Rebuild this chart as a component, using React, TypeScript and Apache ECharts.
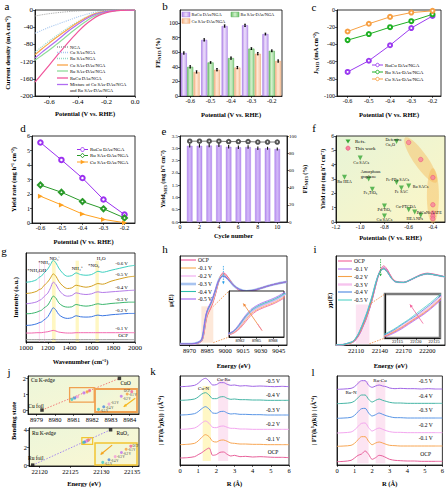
import React, { useEffect, useRef } from "react";
import * as echarts from "echarts";

const SERIF = '"Liberation Serif", "Times New Roman", Times, serif';

/* ---------- (a) LSV ---------- */
const lsvPotential = [-0.7, -0.65, -0.6, -0.55, -0.5, -0.45, -0.4, -0.35, -0.3, -0.25, -0.2, -0.15, -0.1, -0.05, 0];
const lsvNGA = [-14, -11, -8.5, -6.5, -4.8, -3.4, -2.3, -1.5, -0.9, -0.5, -0.3, -0.15, -0.05, 0, 0];
const lsvCuSAs = [-54, -47, -40, -34, -28, -22, -16, -11, -6.5, -3.5, -1.8, -0.8, -0.3, -0.1, 0];
const lsvRuSAs = [-98, -85, -72, -60, -48, -37, -27, -18, -10, -5.5, -2.8, -1.3, -0.5, -0.2, 0];
const lsvCuSD = [-104, -90, -77, -64, -52, -40, -29, -19, -11, -6, -3, -1.4, -0.6, -0.2, 0];
const lsvRuSD = [-117, -105, -93, -80, -67, -53, -40, -28, -17, -9, -4.5, -2, -0.8, -0.3, 0];
const lsvRuCu = [-168, -148, -128, -108, -88, -69, -51, -35, -22, -12, -6, -2.8, -1, -0.3, 0];
const lsvMix = [-112, -98, -85, -72, -58, -45, -33, -22, -13, -7, -3.5, -1.6, -0.6, -0.2, 0];
const lsvTicksX = [-0.6, -0.4, -0.2, 0];
const lsvTicksY = [-200, -160, -120, -80, -40, 0];

/* ---------- (b) FE bars ---------- */
const potentialCats = ["-0.6", "-0.5", "-0.4", "-0.3", "-0.2"];
const feRuCu = [59, 77, 96, 97, 85];
const feRu = [40, 46, 52, 65, 62];
const feCu = [33, 36, 39, 58, 48];
const feRuCuErr = [1.5, 1.5, 1.5, 1.5, 1.2];
const feRuErr = [1.5, 1.0, 1.5, 1.2, 1.2];
const feCuErr = [1.5, 1.5, 1.5, 1.5, 1.5];
const feTicks = [0, 20, 40, 60, 80, 100];

/* ---------- (c) partial current density ---------- */
const potentials = [-0.6, -0.5, -0.4, -0.3, -0.2];
const jRuCu = [-72, -59, -41, -21, -7];
const jRu = [-35, -28, -20, -13, -5];
const jCu = [-25, -16, -8, -3, -1];
const jTicks = [-100, -80, -60, -40, -20, 0];

/* ---------- (d) yield rate ---------- */
const yRuCu = [5.55, 4.35, 3.1, 1.62, 0.58];
const yRu = [2.62, 2.12, 1.48, 0.98, 0.35];
const yCu = [1.85, 1.25, 0.62, 0.25, 0.02];
const yieldTicks = [0, 1, 2, 3, 4, 5, 6];

/* ---------- (e) cycling ---------- */
const cycles = [1, 2, 3, 4, 5, 6, 7, 8, 9, 10];
const cycleYield = [3.1, 3.1, 3.11, 3.12, 3.06, 3.04, 3.05, 3.0, 3.0, 2.97];
const cycleYieldErr = [0.07, 0.07, 0.07, 0.07, 0.07, 0.07, 0.07, 0.07, 0.06, 0.06];
const cycleFE = [94, 94, 94, 94, 93.5, 93.5, 93.5, 93, 93, 93];
const cycleTicks = [0, 2, 4, 6, 8, 10];
const cycleYieldTicks = [0, 0.5, 1, 1.5, 2, 2.5, 3, 3.5];
const cycleFETicks = [0, 20, 40, 60, 80, 100];

/* ---------- (f) comparison ---------- */
const refNames = ["Defective\nCu₂O", "Co SACs", "Ru HEA", "Amorphous\ngraphene", "Fe₂TiO₅", "Fe-PPy SACs", "Fe SAC", "Ru SACs", "Pd/TiO₂", "Cu-PTCDA", "PdCuNi AATE", "HEA NPs", "Cu SACs"];
const refPotential = [-0.7, -1.0, -1.13, -0.93, -0.9, -0.7, -0.66, -0.6, -0.8, -0.6, -0.55, -0.5, -0.8];
const refYield = [5.62, 4.47, 3.12, 3.0, 2.28, 2.75, 2.38, 2.52, 1.12, 0.85, 0.7, 0.47, 0.42];
const twPotential = [-0.6, -0.5, -0.4, -0.4, -0.4, -0.4, -0.4];
const twYield = [5.55, 4.36, 3.1, 1.2, 0.62, 0.4, 0.22];
const fTicksX = [-1.2, -1.0, -0.8, -0.6, -0.4];

/* ---------- (g) in-situ IR ---------- */
const gWavenumber = [1000, 1050, 1100, 1120, 1140, 1160, 1180, 1200, 1225, 1250, 1275, 1300, 1340, 1380, 1420, 1460, 1500, 1550, 1600, 1640, 1660, 1700, 1780, 1860, 1940, 2000];
const ir06 = [180, 182, 188, 195, 198, 206, 213, 220, 233, 246, 238, 223, 206, 198, 200, 208, 203, 201, 203, 210, 213, 210, 216, 222, 228, 231];
const ir05 = [146, 148, 153, 158, 160, 168, 175, 181, 193, 205, 198, 183, 168, 161, 163, 171, 168, 165, 168, 174, 176, 174, 183, 190, 196, 198];
const ir04 = [115, 117, 121, 125, 128, 135, 141, 147, 163, 180, 173, 158, 143, 138, 140, 148, 145, 143, 145, 150, 151, 149, 151, 153, 155, 156];
const ir03 = [85, 86, 90, 93, 95, 101, 106, 111, 125, 138, 132, 118, 108, 105, 106, 113, 110, 108, 110, 114, 115, 113, 116, 118, 120, 120];
const ir02 = [50, 51, 55, 58, 60, 65, 70, 76, 90, 103, 96, 83, 74, 71, 73, 79, 76, 75, 76, 80, 81, 79, 82, 84, 86, 86];
const ir01 = [27, 27, 28, 28, 28, 29, 30, 31, 33, 35, 33, 30, 28, 27, 27, 28, 28, 28, 28, 28, 28, 28, 28, 28, 28, 28];
const irOCP = [7, 7, 7, 7, 7, 7, 7, 7, 7, 8, 7, 7, 7, 7, 7, 7, 7, 7, 7, 7, 7, 7, 7, 7, 7, 7];
const irLabels = ["-0.6 V", "-0.5 V", "-0.4 V", "-0.3 V", "-0.2 V", "-0.1 V", "OCP"];
const gTicks = [1000, 1200, 1400, 1600, 1800, 2000];

/* ---------- (h) Cu K-edge XANES ---------- */
const hEnergy = [8962, 8972, 8977, 8980, 8981, 8982, 8983, 8984, 8985, 8986, 8987, 8988, 8989, 8990, 8992, 8994, 8996, 8998, 9000, 9003, 9007, 9012, 9018, 9025, 9033, 9042, 9052];
const cuOCP = [0, 0, 0.01, 0.04, 0.08, 0.16, 0.28, 0.4, 0.48, 0.53, 0.57, 0.61, 0.66, 0.72, 0.86, 1.02, 1.15, 1.21, 1.2, 1.12, 1.0, 0.91, 0.88, 0.91, 0.97, 1.02, 1.06];
const cu01 = [0, 0, 0.01, 0.05, 0.09, 0.18, 0.31, 0.43, 0.5, 0.55, 0.59, 0.63, 0.68, 0.74, 0.88, 1.03, 1.15, 1.19, 1.18, 1.11, 1.0, 0.92, 0.89, 0.92, 0.97, 1.02, 1.06];
const cu02 = [0, 0, 0.01, 0.05, 0.1, 0.2, 0.34, 0.45, 0.52, 0.57, 0.61, 0.65, 0.7, 0.76, 0.89, 1.04, 1.14, 1.18, 1.17, 1.1, 1.0, 0.92, 0.89, 0.92, 0.97, 1.02, 1.06];
const cu03 = [0, 0, 0.02, 0.06, 0.11, 0.22, 0.36, 0.47, 0.54, 0.59, 0.63, 0.67, 0.72, 0.78, 0.91, 1.05, 1.14, 1.17, 1.16, 1.1, 1.0, 0.93, 0.9, 0.92, 0.97, 1.02, 1.06];
const cu04 = [0, 0, 0.02, 0.06, 0.12, 0.24, 0.38, 0.49, 0.56, 0.61, 0.65, 0.69, 0.74, 0.8, 0.92, 1.05, 1.13, 1.16, 1.15, 1.09, 1.0, 0.93, 0.9, 0.92, 0.97, 1.02, 1.06];
const cu05 = [0, 0, 0.02, 0.07, 0.13, 0.26, 0.4, 0.51, 0.58, 0.63, 0.67, 0.71, 0.76, 0.82, 0.94, 1.06, 1.12, 1.15, 1.14, 1.09, 1.0, 0.93, 0.9, 0.92, 0.97, 1.02, 1.06];
const hTicks = [8970, 8985, 9000, 9015, 9030, 9045];
const hInsetTicks = [8982, 8985, 8988];
const potLabels = ["OCP", "-0.1 V", "-0.2 V", "-0.3 V", "-0.4 V", "-0.5 V"];

/* ---------- (i) Ru K-edge XANES ---------- */
const iEnergy = [22085, 22095, 22100, 22105, 22108, 22110, 22112, 22114, 22116, 22118, 22120, 22122, 22124, 22126, 22128, 22131, 22135, 22140, 22145, 22150, 22155, 22160, 22170, 22180, 22190, 22200, 22210, 22222];
const ruOCP = [0, 0.01, 0.02, 0.04, 0.06, 0.09, 0.13, 0.17, 0.22, 0.28, 0.34, 0.4, 0.47, 0.55, 0.63, 0.77, 0.98, 1.2, 1.29, 1.22, 1.1, 1.04, 1.02, 1.07, 1.14, 1.17, 1.15, 1.11];
const ru01 = [0, 0.01, 0.02, 0.04, 0.06, 0.09, 0.12, 0.16, 0.21, 0.27, 0.33, 0.39, 0.46, 0.54, 0.62, 0.76, 0.97, 1.19, 1.26, 1.2, 1.09, 1.03, 1.02, 1.07, 1.13, 1.16, 1.14, 1.11];
const ru02 = [0, 0.01, 0.02, 0.04, 0.07, 0.1, 0.13, 0.18, 0.23, 0.29, 0.35, 0.41, 0.48, 0.56, 0.64, 0.78, 0.99, 1.19, 1.25, 1.19, 1.09, 1.03, 1.02, 1.07, 1.13, 1.16, 1.14, 1.11];
const ru03 = [0, 0.01, 0.02, 0.05, 0.07, 0.1, 0.14, 0.19, 0.24, 0.3, 0.36, 0.43, 0.5, 0.58, 0.66, 0.8, 1.0, 1.19, 1.25, 1.19, 1.09, 1.03, 1.02, 1.07, 1.13, 1.16, 1.14, 1.11];
const ru04 = [0, 0.01, 0.03, 0.05, 0.08, 0.11, 0.15, 0.2, 0.26, 0.32, 0.38, 0.45, 0.52, 0.6, 0.68, 0.81, 1.01, 1.19, 1.24, 1.18, 1.08, 1.03, 1.02, 1.07, 1.13, 1.16, 1.14, 1.11];
const ru05 = [0, 0.01, 0.03, 0.05, 0.08, 0.12, 0.16, 0.21, 0.27, 0.33, 0.4, 0.47, 0.54, 0.62, 0.7, 0.83, 1.02, 1.19, 1.24, 1.18, 1.08, 1.03, 1.02, 1.07, 1.13, 1.16, 1.14, 1.11];
const iTicks = [22110, 22140, 22170, 22200];
const iInsetTicks = [22115, 22120, 22125];

/* ---------- (j) bonding state ---------- */
const cuRefE = [8979.3, 8983.45];
const cuRefState = [0, 2];
const cuE = [8981.85, 8981.72, 8981.55, 8981.2, 8981.05, 8980.9];
const cuState = [1.22, 1.15, 1.08, 0.84, 0.76, 0.68];
const ruRefE = [22118.9, 22131.5];
const ruRefState = [0, 4];
const ruE = [22127.95, 22127.8, 22127.65, 22127.45, 22127.25, 22127.05];
const ruState = [2.86, 2.8, 2.74, 2.66, 2.6, 2.55];
const jCuTicksX = [8979, 8980, 8981, 8982, 8983, 8984];
const jCuTicksY = [0, 1, 2];
const jRuTicksX = [22120, 22125, 22130, 22135];
const jRuTicksY = [0, 2, 4];

/* ---------- (k) Cu EXAFS, (l) Ru EXAFS ---------- */
const rGrid = [0, 0.4, 0.8, 1.0, 1.2, 1.4, 1.6, 1.8, 2.0, 2.2, 2.4, 2.6, 2.8, 3.0, 3.3, 3.6, 4.0, 4.4, 4.8, 5.2, 5.6, 6.0];
const kOCP = [21, 22, 25, 31, 37, 45, 51, 29, 31, 38, 39, 32, 27, 29, 25, 26, 24, 25, 24, 23, 23, 22];
const k01 = [61, 62, 65, 72, 83, 91, 85, 71, 69, 74, 75, 71, 66, 65, 63, 63, 62, 62, 61, 61, 61, 61];
const k02 = [107, 108, 111, 117, 126, 132, 125, 113, 112, 116, 117, 113, 110, 110, 108, 108, 107, 107, 107, 107, 107, 107];
const k03 = [150, 151, 154, 160, 169, 175, 168, 156, 155, 160, 161, 156, 153, 154, 152, 152, 151, 151, 150, 150, 150, 150];
const k04 = [194, 195, 198, 204, 213, 217, 210, 199, 199, 204, 205, 200, 197, 198, 196, 196, 195, 195, 194, 194, 194, 194];
const k05 = [235, 236, 239, 245, 255, 260, 252, 240, 241, 247, 247, 242, 239, 240, 237, 238, 236, 237, 236, 235, 236, 235];
const lOCP = [10, 11, 14, 21, 29, 33, 42, 32, 17, 22, 29, 27, 22, 17, 14, 13, 12, 12, 11, 11, 11, 11];
const l01 = [56, 57, 59, 65, 76, 85, 85, 71, 61, 66, 69, 66, 62, 59, 58, 57, 57, 57, 57, 57, 57, 57];
const l02 = [96, 97, 99, 105, 116, 125, 126, 112, 102, 107, 111, 107, 103, 100, 98, 98, 97, 97, 97, 97, 97, 97];
const l03 = [140, 141, 143, 149, 160, 169, 170, 156, 147, 151, 156, 152, 148, 145, 142, 142, 141, 141, 141, 141, 141, 141];
const l04 = [184, 185, 187, 192, 202, 210, 210, 197, 189, 194, 198, 194, 191, 188, 186, 186, 185, 185, 185, 185, 185, 185];
const l05 = [227, 228, 230, 235, 245, 253, 253, 239, 233, 237, 240, 237, 235, 231, 229, 230, 229, 229, 228, 229, 228, 228];
const rTicks = [0, 1, 2, 3, 4, 5, 6];

/* ---------- styling ---------- */
const potColorsH = ["#f0559b", "#f8a94e", "#f0a8ee", "#a8c4f0", "#2ebfae", "#a064f0"];
const potColorsI = ["#f0609a", "#b070f0", "#f5a24a", "#f6c4ee", "#4a86e0", "#52d2c6"];
const potColorsK = ["#e8609a", "#f8a653", "#f3a6ef", "#5a96e6", "#45b5a5", "#a166e6"];
const potColorsJ = ["#f0609a", "#f5a040", "#c070f0", "#f39ad8", "#4a86e0", "#40c8c0"];
const irColors = ["#3ed0c0", "#d4a020", "#b47be8", "#3cb66e", "#3a76e2", "#f36ab0", "#9a9a9a"];

const GRIDS: any[] = [
  { left: 35, top: 10, width: 100, height: 86 },
  { left: 180, top: 10, width: 102, height: 86 },
  { left: 337, top: 10, width: 104, height: 86 },
  { left: 32, top: 136, width: 103, height: 87 },
  { left: 180, top: 136, width: 107, height: 86 },
  { left: 336, top: 136, width: 109, height: 86, bg: "f" },
  { left: 26, top: 253, width: 109, height: 89 },
  { left: 180, top: 256, width: 107, height: 89 },
  { left: 229, top: 291, width: 55, height: 46, inset: true, bc: "#222", bw: 1 },
  { left: 336, top: 256, width: 109, height: 89 },
  { left: 385, top: 294, width: 55, height: 44, inset: true, bc: "#7a7a7a", bw: 2.5 },
  { left: 28, top: 376, width: 111, height: 38, bg: "j" },
  { left: 95, top: 389, width: 42, height: 23, inset: true, bc: "#f0a050", bw: 1.8, bg: "j" },
  { left: 29, top: 428, width: 110, height: 38, bg: "j" },
  { left: 95, top: 443, width: 42, height: 22, inset: true, bc: "#f2c531", bw: 1.5, bg: "j" },
  { left: 180, top: 376, width: 109, height: 89 },
  { left: 337, top: 376, width: 108, height: 89 },
];

function clean(o: any): any {
  if (Array.isArray(o)) return o.map(clean);
  if (o && typeof o === "object" && !(o instanceof echarts.graphic.LinearGradient)) {
    const r: any = {};
    Object.keys(o).forEach((k) => {
      if (o[k] !== undefined) r[k] = clean(o[k]);
    });
    return r;
  }
  return o;
}

const zip = (xs: number[], ys: number[]) => xs.map((x, i) => [x, ys[i]]);
const f1 = (v: number) => v.toFixed(1);
const f0 = (v: number) => String(Math.round(v));

const RICH = {
  s: { fontFamily: SERIF, fontSize: 4.6, fontWeight: "bold", verticalAlign: "bottom", lineHeight: 9, color: "#000" },
};

function axis(gi: number, o: any) {
  return clean({
    type: o.type || "value",
    gridIndex: gi,
    show: o.show === false ? false : true,
    min: o.min,
    max: o.max,
    data: o.data,
    position: o.position,
    boundaryGap: o.type === "category" ? true : undefined,
    z: o.z,
    name: o.name,
    nameLocation: "middle",
    nameGap: o.nameGap !== undefined ? o.nameGap : 10,
    nameRotate: o.nameRotate,
    nameTextStyle: { fontFamily: SERIF, fontSize: o.nfs || 6.5, fontWeight: "bold", color: "#000", lineHeight: 9, rich: RICH },
    axisLine: { show: true, onZero: false, lineStyle: { color: "#000", width: 0.8 } },
    axisTick: {
      show: o.ticks === false ? false : true,
      length: 2,
      alignWithLabel: true,
      lineStyle: { color: "#000", width: 0.6 },
      customValues: o.at,
    },
    axisLabel: {
      show: o.labels === false ? false : true,
      fontFamily: SERIF,
      fontSize: o.fs || 6,
      color: "#000",
      margin: o.margin !== undefined ? o.margin : 2,
      customValues: o.at,
      formatter: o.fmt,
      hideOverlap: false,
    },
    splitLine: { show: false },
  });
}

function buildOption() {
  const bgF = new echarts.graphic.LinearGradient(0, 0, 1, 1, [
    { offset: 0, color: "#e7f4d7" },
    { offset: 1, color: "#fdf6c6" },
  ]);
  const bgJ = () =>
    new echarts.graphic.LinearGradient(0, 0, 1, 1, [
      { offset: 0, color: "#ecf6da" },
      { offset: 1, color: "#fcf7d2" },
    ]);
  const grid = GRIDS.map((g) =>
    clean({
      left: g.left,
      top: g.top,
      width: g.width,
      height: g.height,
      show: true,
      containLabel: false,
      borderColor: g.bc || "#000",
      borderWidth: g.bw || 0.8,
      backgroundColor: g.bg === "f" ? bgF : g.bg === "j" ? bgJ() : g.inset ? "#fff" : "transparent",
      z: g.inset ? 3 : 0,
    })
  );

  const xAxis = [
    axis(0, { min: -0.7, max: 0, at: lsvTicksX, fmt: f1, fs: 7, name: "Potential (V vs. RHE)", nameGap: 13 }),
    axis(1, { type: "category", data: potentialCats, fs: 6, name: "Potential (V vs. RHE)", nameGap: 14 }),
    axis(2, { min: -0.65, max: -0.16, at: potentials, fmt: f1, fs: 6, name: "Potential (V vs. RHE)", nameGap: 14 }),
    axis(3, { min: -0.64, max: -0.15, at: potentials, fmt: f1, fs: 6, name: "Potential (V vs. RHE)", nameGap: 14 }),
    axis(4, { min: 0, max: 11, at: cycleTicks, fmt: f0, fs: 6, name: "Cycle number", nameGap: 9 }),
    axis(5, { min: -1.2, max: -0.3, at: fTicksX, fmt: f1, fs: 5.5, name: "Potentials (V vs. RHE)", nameGap: 11 }),
    axis(6, { min: 1000, max: 2000, at: gTicks, fmt: f0, fs: 7, name: "Wavenumber (cm⁻¹)", nameGap: 15 }),
    axis(7, { min: 8962, max: 9052, at: hTicks, fmt: f0, fs: 6.5, name: "Energy (eV)", nameGap: 16 }),
    axis(8, { min: 8980, max: 8990, at: hInsetTicks, fmt: f0, fs: 4.5, margin: 1, z: 4 }),
    axis(9, { min: 22085, max: 22222, at: iTicks, fmt: f0, fs: 6.5, name: "Energy (eV)", nameGap: 16 }),
    axis(10, { min: 22111.6, max: 22126.6, at: iInsetTicks, fmt: f0, fs: 4.5, margin: 1, z: 4 }),
    axis(11, { min: 8978.55, max: 8984.5, at: jCuTicksX, fmt: f0, fs: 6.5 }),
    axis(12, { min: 8980.8, max: 8982.0, show: false }),
    axis(13, { min: 22118.3, max: 22136.1, at: jRuTicksX, fmt: f0, fs: 6.5, name: "Energy (eV)", nameGap: 13 }),
    axis(14, { min: 22126.8, max: 22128.15, show: false }),
    axis(15, { min: 0, max: 6, at: rTicks, fmt: f0, fs: 6.5, name: "R (Å)", nameGap: 14 }),
    axis(16, { min: 0, max: 6, at: rTicks, fmt: f0, fs: 6.5, name: "R (Å)", nameGap: 14 }),
  ];
  const yAxis = [
    axis(0, { min: -200, max: 0, at: lsvTicksY, fmt: f0, fs: 7, name: "Current density (mA cm⁻²)", nameGap: 23, nameRotate: 90 }),
    axis(1, { min: 0, max: 118, at: feTicks, fmt: f0, fs: 6, name: "FE{s|NH3} (%)", nameGap: 18, nameRotate: 90 }),
    axis(2, { min: -100, max: 0, at: jTicks, fmt: f0, fs: 6, name: "J{s|NH3} (mA cm⁻²)", nameGap: 11, nameRotate: 90 }),
    axis(3, { min: 0, max: 6, at: yieldTicks, fmt: f0, fs: 6, name: "Yield rate (mg h⁻¹ cm⁻²)", nameGap: 14, nameRotate: 90 }),
    axis(4, { min: 0, max: 3.5, at: cycleYieldTicks, fmt: f1, fs: 5, name: "Yield{s|NH3} (mg h⁻¹ cm⁻²)", nameGap: 10.5, nameRotate: 90, nfs: 6 }),
    axis(5, { min: 0, max: 6, at: yieldTicks, fmt: f0, fs: 5.5, name: "Yield rate (mg h⁻¹ cm⁻²)", nameGap: 8, nameRotate: 90, nfs: 6 }),
    axis(6, { min: 0, max: 268, labels: false, ticks: false, name: "Intensity (a.u.)", nameGap: 6, nameRotate: 90 }),
    axis(7, { min: -0.02, max: 1.5, labels: false, ticks: false, name: "μ(E)", nameGap: 5, nameRotate: 90 }),
    axis(8, { min: 0, max: 0.85, labels: false, ticks: false, z: 4 }),
    axis(9, { min: 0, max: 1.45, labels: false, ticks: false, name: "χμ(E)", nameGap: 2, nameRotate: 90 }),
    axis(10, { min: 0.1, max: 0.65, labels: false, ticks: false, z: 4 }),
    axis(11, { min: -0.25, max: 2.15, at: jCuTicksY, fmt: f0, fs: 6.5 }),
    axis(12, { min: 0.6, max: 1.3, show: false }),
    axis(13, { min: -0.1, max: 4.2, at: jRuTicksY, fmt: f0, fs: 6.5 }),
    axis(14, { min: 2.5, max: 2.92, show: false }),
    axis(15, { min: 0, max: 267, labels: false, ticks: false, name: "| FT(k³χ(k)) | (Å⁻⁴)", nameGap: 15, nameRotate: 90 }),
    axis(16, { min: 0, max: 267, labels: false, ticks: false, name: "| FT(k³χ(k)) | (Å⁻⁴)", nameGap: 19, nameRotate: 90 }),
    axis(4, { min: 0, max: 100, at: cycleFETicks, fmt: f0, fs: 5, position: "right", name: "FE{s|NH3} (%)", nameGap: 8, nameRotate: 90, nfs: 6 }),
  ];

  const S: any[] = [];
  const line = (name: string, gi: number, xs: number[], ys: number[], color: string, o: any = {}) => {
    S.push(
      clean({
        type: "line",
        name,
        xAxisIndex: gi,
        yAxisIndex: o.yi !== undefined ? o.yi : gi,
        data: zip(xs, ys),
        symbol: o.symbol || "none",
        showSymbol: !!o.symbol,
        symbolSize: o.symbolSize || 3.5,
        symbolRotate: o.symbolRotate,
        smooth: o.smooth !== undefined ? o.smooth : 0.3,
        silent: true,
        z: o.z || 2,
        lineStyle: { color, width: o.width || 1, type: o.dash || "solid", opacity: o.opacity },
        itemStyle: { color, borderWidth: 0.9 },
        markArea: o.markArea,
      })
    );
  };

  /* (a) */
  line("NGA", 0, lsvPotential, lsvNGA, "#9c9c9c", { dash: "dotted", width: 0.9 });
  line("Cu SAs/NGA", 0, lsvPotential, lsvCuSAs, "#a9c8ef", { dash: "dotted", width: 1.1 });
  line("Ru SAs/NGA", 0, lsvPotential, lsvRuSAs, "#95d9c3", { dash: "dotted", width: 1.1 });
  line("Cu SAs-DAs/NGA", 0, lsvPotential, lsvCuSD, "#f9a548", { width: 1.2 });
  line("Ru SAs-DAs/NGA", 0, lsvPotential, lsvRuSD, "#8edc9a", { width: 1.2 });
  line("Mixture of Cu SAs-DAs/NGA and Ru SAs-DAs/NGA", 0, lsvPotential, lsvMix, "#b06cf2", { width: 1.2 });
  line("RuCu DAs/NGA", 0, lsvPotential, lsvRuCu, "#f0559b", { width: 1.2 });

  /* (b) */
  const barDefs = [
    { name: "RuCu DAs/NGA", vals: feRuCu, err: feRuCuErr, c: ["#b58ae8", "#ecdffb", "#c9a9f1"], b: "#9c6fe0" },
    { name: "Ru SAs-DAs/NGA", vals: feRu, err: feRuErr, c: ["#6cc36c", "#d3f0cc", "#94d694"], b: "#4aa84a" },
    { name: "Cu SAs-DAs/NGA", vals: feCu, err: feCuErr, c: ["#f6b487", "#fee8d6", "#f8c9a5"], b: "#e9a06c" },
  ];
  const CATGAP = 0.08;
  const BARGAP = 0.06;
  barDefs.forEach((d) => {
    S.push({
      type: "bar",
      name: d.name,
      xAxisIndex: 1,
      yAxisIndex: 1,
      data: d.vals,
      barCategoryGap: CATGAP * 100 + "%",
      barGap: BARGAP * 100 + "%",
      silent: true,
      itemStyle: {
        color: new echarts.graphic.LinearGradient(0, 0, 1, 0, [
          { offset: 0, color: d.c[0] },
          { offset: 0.45, color: d.c[1] },
          { offset: 1, color: d.c[2] },
        ]),
        borderColor: d.b,
        borderWidth: 0.5,
      },
    });
  });
  barDefs.forEach((d, k) => {
    S.push({
      type: "custom",
      xAxisIndex: 1,
      yAxisIndex: 1,
      z: 5,
      silent: true,
      data: d.vals.map((v, i) => [i, v, d.err[i]]),
      renderItem: (params: any, api: any) => {
        const i = api.value(0);
        const v = api.value(1);
        const e = api.value(2);
        const c = api.coord([i, v]);
        const top = api.coord([i, v + e]);
        const bot = api.coord([i, v - e]);
        const band = api.size([1, 0])[0];
        const usable = band * (1 - CATGAP);
        const bw = usable / (3 + 2 * BARGAP);
        const cx = c[0] - usable / 2 + bw / 2 + k * bw * (1 + BARGAP);
        const st = { stroke: "#000", lineWidth: 1 };
        return {
          type: "group",
          children: [
            { type: "line", shape: { x1: cx, y1: top[1], x2: cx, y2: bot[1] }, style: st },
            { type: "line", shape: { x1: cx - 0.8, y1: top[1], x2: cx + 0.8, y2: top[1] }, style: st },
            { type: "line", shape: { x1: cx - 0.8, y1: bot[1], x2: cx + 0.8, y2: bot[1] }, style: st },
          ],
        };
      },
    });
  });

  /* (c) */
  line("RuCu DAs/NGA", 2, potentials, jRuCu, "#9b3bf0", { symbol: "emptyCircle", symbolSize: 4, smooth: false });
  line("Ru SAs-DAs/NGA", 2, potentials, jRu, "#1fb024", { symbol: "emptyCircle", symbolSize: 4, smooth: false });
  line("Cu SAs-DAs/NGA", 2, potentials, jCu, "#f7a043", { symbol: "emptyCircle", symbolSize: 4, smooth: false });

  /* (d) */
  line("RuCu DAs/NGA", 3, potentials, yRuCu, "#9b30f0", { symbol: "emptyCircle", symbolSize: 4.5, smooth: false });
  line("Ru SAs-DAs/NGA", 3, potentials, yRu, "#2a9a2a", { symbol: "emptyDiamond", symbolSize: 5, smooth: false });
  line("Cu SAs-DAs/NGA", 3, potentials, yCu, "#ffa11f", { symbol: "triangle", symbolSize: 5, symbolRotate: -90, smooth: false });

  /* (e) */
  S.push({
    type: "bar",
    name: "Yield",
    xAxisIndex: 4,
    yAxisIndex: 4,
    data: zip(cycles, cycleYield),
    barWidth: 5.5,
    silent: true,
    itemStyle: {
      color: new echarts.graphic.LinearGradient(0, 0, 1, 0, [
        { offset: 0, color: "#b88ef0" },
        { offset: 0.5, color: "#d3baf8" },
        { offset: 1, color: "#b88ef0" },
      ]),
      borderColor: "#a47ae6",
      borderWidth: 0.4,
    },
  });
  S.push({
    type: "custom",
    xAxisIndex: 4,
    yAxisIndex: 4,
    z: 5,
    silent: true,
    data: cycles.map((c, i) => [c, cycleYield[i], cycleYieldErr[i]]),
    renderItem: (params: any, api: any) => {
      const x = api.value(0);
      const v = api.value(1);
      const e = api.value(2);
      const t = api.coord([x, v + e]);
      const b = api.coord([x, v - e]);
      return { type: "line", shape: { x1: t[0], y1: t[1], x2: b[0], y2: b[1] }, style: { stroke: "#111", lineWidth: 1.1 } };
    },
  });
  line("FE", 4, cycles, cycleFE, "#555", { yi: 17, symbol: "emptyCircle", symbolSize: 3.5, smooth: false, width: 0.8 });

  /* (f) */
  S.push({
    type: "scatter",
    name: "Refs.",
    xAxisIndex: 5,
    yAxisIndex: 5,
    data: zip(refPotential, refYield),
    symbol: "triangle",
    symbolRotate: 180,
    symbolSize: 5,
    silent: true,
    z: 3,
    itemStyle: { color: "#38a838" },
  });
  S.push({
    type: "scatter",
    name: "This work",
    xAxisIndex: 5,
    yAxisIndex: 5,
    data: zip(twPotential, twYield),
    symbol: "circle",
    symbolSize: 4.5,
    silent: true,
    z: 3,
    itemStyle: { color: "#f7839f", borderColor: "#e84a72", borderWidth: 0.6 },
  });

  /* (g) */
  const irSets = [ir06, ir05, ir04, ir03, ir02, ir01, irOCP];
  irSets.forEach((ys, k) => line(irLabels[k], 6, gWavenumber, ys, irColors[k], { width: 1 }));
  const yellow = "rgba(255,238,120,0.45)";
  const pinkBand = "rgba(248,190,230,0.55)";
  line("bands-g", 6, gWavenumber, irOCP, "#000", {
    opacity: 0,
    z: 1,
    markArea: {
      silent: true,
      data: [
        [{ xAxis: 1118, yAxis: 0, itemStyle: { color: pinkBand } }, { xAxis: 1128, yAxis: 245 }],
        [{ xAxis: 1165, yAxis: 0, itemStyle: { color: pinkBand } }, { xAxis: 1175, yAxis: 245 }],
        [{ xAxis: 1238, yAxis: 0, itemStyle: { color: yellow } }, { xAxis: 1272, yAxis: 245 }],
        [{ xAxis: 1455, yAxis: 0, itemStyle: { color: yellow } }, { xAxis: 1485, yAxis: 245 }],
        [{ xAxis: 1637, yAxis: 0, itemStyle: { color: yellow } }, { xAxis: 1668, yAxis: 245 }],
      ],
    },
  });

  /* (h) */
  const cuSets = [cuOCP, cu01, cu02, cu03, cu04, cu05];
  line("shade-h", 7, hEnergy, cuOCP, "#000", {
    opacity: 0,
    z: 1,
    markArea: { silent: true, data: [[{ xAxis: 8980, yAxis: 0.02, itemStyle: { color: "rgba(250,205,170,0.45)" } }, { xAxis: 8990, yAxis: 0.64 }]] },
  });
  [3, 0, 1, 2, 4, 5].forEach((k) => line(potLabels[k], 7, hEnergy, cuSets[k], potColorsH[k], { width: k === 3 ? 2.4 : 1 }));
  [3, 0, 1, 2, 4, 5].forEach((k) => line(potLabels[k], 8, hEnergy, cuSets[k], potColorsH[k], { width: k === 3 ? 1.8 : 0.8, z: 5 }));

  /* (i) */
  const ruSets = [ruOCP, ru01, ru02, ru03, ru04, ru05];
  line("shade-i", 9, iEnergy, ruOCP, "#000", {
    opacity: 0,
    z: 1,
    markArea: { silent: true, data: [[{ xAxis: 22110, yAxis: 0.02, itemStyle: { color: "rgba(250,200,230,0.5)" } }, { xAxis: 22127, yAxis: 0.66 }]] },
  });
  [3, 0, 1, 2, 4, 5].forEach((k) => line(potLabels[k], 9, iEnergy, ruSets[k], potColorsI[k], { width: k === 3 ? 2 : 1 }));
  [3, 0, 1, 2, 4, 5].forEach((k) => line(potLabels[k], 10, iEnergy, ruSets[k], potColorsI[k], { width: k === 3 ? 1.5 : 0.8, z: 5 }));

  /* (j) */
  line("Cu ref", 11, cuRefE, cuRefState, "#f07070", { dash: [1.5, 1.5], smooth: false, width: 0.9 });
  line("Ru ref", 13, ruRefE, ruRefState, "#9b7cf0", { dash: [1.5, 1.5], smooth: false, width: 0.9 });
  const refSq = (gi: number, xs: number[], ys: number[]) =>
    S.push({ type: "scatter", xAxisIndex: gi, yAxisIndex: gi, data: zip(xs, ys), symbol: "rect", symbolSize: 3.5, silent: true, z: 4, itemStyle: { color: "#111" } });
  refSq(11, cuRefE, cuRefState);
  refSq(13, ruRefE, ruRefState);
  const cluster = (gi: number, xs: number[], ys: number[], size: number) =>
    S.push({
      type: "scatter",
      xAxisIndex: gi,
      yAxisIndex: gi,
      silent: true,
      z: gi === 12 || gi === 14 ? 5 : 4,
      symbolSize: size,
      data: xs.map((x, i) => ({ value: [x, ys[i]], itemStyle: { color: potColorsJ[i] } })),
    });
  cluster(11, cuE, cuState, 3.2);
  cluster(12, cuE, cuState, 3);
  cluster(13, ruE, ruState, 3.2);
  cluster(14, ruE, ruState, 3);

  /* (k), (l) */
  const kSets = [kOCP, k01, k02, k03, k04, k05];
  const lSets = [lOCP, l01, l02, l03, l04, l05];
  line("bands-k", 15, rGrid, kOCP, "#000", {
    opacity: 0,
    z: 1,
    markArea: {
      silent: true,
      data: [
        [{ xAxis: 1.25, yAxis: 12, itemStyle: { color: "rgba(255,240,150,0.55)" } }, { xAxis: 1.7, yAxis: 237 }],
        [{ xAxis: 2.1, yAxis: 12, itemStyle: { color: "rgba(250,205,232,0.55)" } }, { xAxis: 2.65, yAxis: 257 }],
      ],
    },
  });
  line("bands-l", 16, rGrid, lOCP, "#000", {
    opacity: 0,
    z: 1,
    markArea: {
      silent: true,
      data: [
        [{ xAxis: 1.15, yAxis: 5, itemStyle: { color: "rgba(250,205,232,0.55)" } }, { xAxis: 1.8, yAxis: 252 }],
        [{ xAxis: 2.2, yAxis: 5, itemStyle: { color: "rgba(250,205,232,0.55)" } }, { xAxis: 2.75, yAxis: 252 }],
      ],
    },
  });
  kSets.forEach((ys, k) => line(potLabels[k], 15, rGrid, ys, potColorsK[k], { width: 1 }));
  lSets.forEach((ys, k) => line(potLabels[k], 16, rGrid, ys, potColorsK[k], { width: 1 }));

  return {
    animation: false,
    backgroundColor: "#fff",
    textStyle: { fontFamily: SERIF },
    grid,
    xAxis,
    yAxis,
    series: S,
  };
}

function buildGraphics(chart: any) {
  const els: any[] = [];
  const P = (gi: number, x: number, y: number): number[] => chart.convertToPixel({ gridIndex: gi }, [x, y]);
  const text = (x: number, y: number, t: string, o: any = {}) => {
    const align = o.align || "left";
    const va = o.va || "middle";
    const style: any = {
      text: t,
      fill: o.color || "#000",
      fontSize: o.size || 5,
      fontFamily: SERIF,
      fontWeight: o.bold ? "bold" : "normal",
      align,
      verticalAlign: va,
      textAlign: align,
      textVerticalAlign: va,
    };
    if (o.lh) style.lineHeight = o.lh;
    els.push({ type: "text", x, y, rotation: o.rot || 0, z: o.z || 30, silent: true, style });
  };
  const seg = (x1: number, y1: number, x2: number, y2: number, color: string, lw = 0.8, dash?: number[], z = 30) => {
    const style: any = { stroke: color, lineWidth: lw };
    if (dash) style.lineDash = dash;
    els.push({ type: "line", z, silent: true, shape: { x1, y1, x2, y2 }, style });
  };
  const poly = (pts: number[][], fill: string, stroke?: string, lw = 0.7, z = 30) => {
    const style: any = { fill };
    if (stroke) {
      style.stroke = stroke;
      style.lineWidth = lw;
    }
    els.push({ type: "polygon", z, silent: true, shape: { points: pts }, style });
  };
  const circ = (cx: number, cy: number, r: number, fill: string, stroke?: string, lw = 0.7) => {
    const style: any = { fill };
    if (stroke) {
      style.stroke = stroke;
      style.lineWidth = lw;
    }
    els.push({ type: "circle", z: 31, silent: true, shape: { cx, cy, r }, style });
  };
  const rectS = (x: number, y: number, w: number, h: number, style: any, z = 30) =>
    els.push({ type: "rect", z, silent: true, shape: { x, y, width: w, height: h }, style });
  const arrow = (a: number[], b: number[], color: string, lw = 0.8, dash?: number[], head = 3) => {
    seg(a[0], a[1], b[0], b[1], color, lw, dash);
    const dx = b[0] - a[0];
    const dy = b[1] - a[1];
    const len = Math.hypot(dx, dy) || 1;
    const ux = dx / len;
    const uy = dy / len;
    const bx = b[0] - ux * head;
    const by = b[1] - uy * head;
    const w = head * 0.55;
    poly([[b[0], b[1]], [bx - uy * w, by + ux * w], [bx + uy * w, by - ux * w]], color);
  };

  /* panel letters */
  const letters: [string, number, number][] = [
    ["a", 7, 6], ["b", 165, 6], ["c", 314, 7], ["d", 23, 128], ["e", 164, 131], ["f", 314, 128],
    ["g", 4, 251], ["h", 165, 249], ["i", 315, 249], ["j", 9, 372], ["k", 153, 371], ["l", 313, 372],
  ];
  letters.forEach(([t, x, y]) => text(x, y, t, { size: 11, align: "center" }));

  /* (a) legend */
  const aLeg = [
    { t: "NGA", c: "#9c9c9c", d: [1, 1], y: 47 },
    { t: "Cu SAs/NGA", c: "#a9c8ef", d: [1, 1], y: 52.5 },
    { t: "Ru SAs/NGA", c: "#95d9c3", d: [1, 1], y: 58.5 },
    { t: "Cu SAs-DAs/NGA", c: "#f9a548", y: 65 },
    { t: "Ru SAs-DAs/NGA", c: "#8edc9a", y: 71 },
    { t: "RuCu DAs/NGA", c: "#f0559b", y: 78 },
    { t: "Mixture of Cu SAs-DAs/NGA", c: "#b06cf2", y: 84.5 },
  ];
  aLeg.forEach((e: any) => {
    seg(57, e.y, 68, e.y, e.c, 1.3, e.d);
    text(70, e.y, e.t, { size: 4.6 });
  });
  text(70, 90.5, "and Ru SAs-DAs/NGA", { size: 4.6 });

  /* (b) legend */
  const bLeg = [
    { t: "RuCu DAs/NGA", x: 182, y: 14.5, c: ["#b58ae8", "#ecdffb"], b: "#9c6fe0" },
    { t: "Ru SAs-DAs/NGA", x: 231, y: 14.5, c: ["#6cc36c", "#d3f0cc"], b: "#4aa84a" },
    { t: "Cu SAs-DAs/NGA", x: 182, y: 21, c: ["#f6b487", "#fee8d6"], b: "#e9a06c" },
  ];
  bLeg.forEach((e) => {
    rectS(e.x, e.y - 2.3, 8, 4.6, {
      fill: new echarts.graphic.LinearGradient(0, 0, 1, 0, [
        { offset: 0, color: e.c[0] },
        { offset: 0.5, color: e.c[1] },
        { offset: 1, color: e.c[0] },
      ]),
      stroke: e.b,
      lineWidth: 0.5,
    });
    text(e.x + 9.5, e.y, e.t, { size: 4.4 });
  });

  /* (c) legend */
  const cLeg = [
    { t: "RuCu DAs/NGA", c: "#9b3bf0", y: 65 },
    { t: "Ru SAs-DAs/NGA", c: "#1fb024", y: 72 },
    { t: "Cu SAs-DAs/NGA", c: "#f7a043", y: 79 },
  ];
  cLeg.forEach((e) => {
    seg(372, e.y, 383, e.y, e.c, 1);
    circ(377.5, e.y, 1.7, "#fff", e.c, 0.9);
    text(385, e.y, e.t, { size: 5 });
  });

  /* (d) legend */
  const dLeg = [
    { t: "RuCu DAs/NGA", c: "#9b30f0", y: 149.5, m: "o" },
    { t: "Ru SAs-DAs/NGA", c: "#2a9a2a", y: 155.5, m: "d" },
    { t: "Cu SAs-DAs/NGA", c: "#ffa11f", y: 162, m: "t" },
  ];
  dLeg.forEach((e) => {
    seg(77, e.y, 88, e.y, e.c, 1);
    const cx = 82.5;
    if (e.m === "o") circ(cx, e.y, 1.9, "#fff", e.c, 0.9);
    if (e.m === "d") poly([[cx, e.y - 2.3], [cx + 2, e.y], [cx, e.y + 2.3], [cx - 2, e.y]], "#fff", e.c, 0.9);
    if (e.m === "t") poly([[cx + 2.4, e.y], [cx - 1.8, e.y - 2.3], [cx - 1.8, e.y + 2.3]], e.c);
    text(90, e.y, e.t, { size: 5 });
  });

  /* (f) highlight, legend, labels */
  const blob = (a: number[], b: number[], ry: number, pad: number) => {
    const p1 = P(5, a[0], a[1]);
    const p2 = P(5, b[0], b[1]);
    const dx = p2[0] - p1[0];
    const dy = p2[1] - p1[1];
    const len = Math.hypot(dx, dy);
    els.push({
      type: "ellipse",
      x: (p1[0] + p2[0]) / 2,
      y: (p1[1] + p2[1]) / 2,
      rotation: Math.atan2(-dy, dx),
      z: 1,
      silent: true,
      shape: { cx: 0, cy: 0, rx: len / 2 + pad, ry },
      style: { fill: "rgba(246,180,80,0.42)" },
    });
  };
  blob([twPotential[0], twYield[0]], [twPotential[2], twYield[2]], 7, 6);
  blob([twPotential[2], twYield[2] + 0.3], [twPotential[6], twYield[6]], 6, 5);
  poly([[345.5, 139.5], [350.5, 139.5], [348, 143.5]], "#38a838");
  text(355, 141.2, "Refs.", { size: 5 });
  circ(348, 148.2, 2.1, "#f7839f", "#e84a72", 0.6);
  text(355, 148.2, "This work", { size: 5 });
  const fLab: [number, number, string][] = [
    [-11, 1, "left"], [1, 4.5, "center"], [0, 4, "center"], [-8, -5, "left"], [-2, 3.5, "center"], [1, -3.5, "center"],
    [0, 3.5, "center"], [4, 1, "left"], [0, 4, "center"], [-3, -3.5, "center"], [2, 1, "left"], [-6, 3.5, "center"], [0, 3.8, "center"],
  ];
  refNames.forEach((nm, i) => {
    const p = P(5, refPotential[i], refYield[i]);
    text(p[0] + fLab[i][0], p[1] + fLab[i][1], nm, { size: 4.2, align: fLab[i][2], lh: 5 });
  });

  /* (g) labels */
  irLabels.forEach((t, k) => {
    const ys = [ir06, ir05, ir04, ir03, ir02, ir01, irOCP][k];
    const p = P(6, 1935, ys[ys.length - 2] + (k >= 5 ? 12 : 8));
    text(p[0], p[1], t, { size: 5, align: "right" });
  });
  const gAnn: [number, number, string][] = [
    [1098, 216, "*NH₂OH"], [1165, 238, "*NH₂"], [1266, 251, "NO₃⁻"], [1470, 222, "NH₄⁺"], [1622, 231, "*NO₂"], [1690, 251, "H₂O"],
  ];
  gAnn.forEach(([x, y, t]) => {
    const p = P(6, x, y);
    text(p[0], p[1], t, { size: 5, align: "center" });
  });

  /* (h) legend + inset decorations */
  potLabels.forEach((t, k) => {
    const y = [260, 268, 276, 284, 291.5, 299][k];
    seg(181, y, 196, y, potColorsH[k], k === 3 ? 2.6 : 1.1);
    text(198, y, t, { size: 5.5 });
  });
  {
    const a1 = P(7, 8990, 0.64);
    const a2 = P(7, 8990, 0.02);
    seg(a1[0], a1[1], 229, 291, "#f08a3c", 0.8, [1.5, 1.2]);
    seg(a2[0], a2[1], 229, 337, "#f08a3c", 0.8, [1.5, 1.2]);
    arrow(P(7, 8998.5, 1.33), P(7, 8998.5, 1.02), "#2aa0e8", 0.8, [1.5, 1], 2.6);
    const s0 = P(8, 8986, 0.12);
    const s1 = P(8, 8985.2, 0.24);
    arrow(s0, P(8, 8982.6, 0.62), "#f08a3c", 0.8, undefined, 3);
    seg(s0[0], s0[1], s1[0], s1[1], "#f27aa8", 0.8);
  }

  /* (i) legend + inset decorations */
  potLabels.forEach((t, k) => {
    const y = [261, 269, 276.5, 284.5, 292, 300][k];
    seg(338, y, 352, y, potColorsI[k], k === 3 ? 2.4 : 1.1);
    text(354, y, t, { size: 5.5 });
  });
  {
    const a1 = P(9, 22127, 0.66);
    const a2 = P(9, 22127, 0.02);
    seg(a1[0], a1[1], 385, 294, "#f08a3c", 0.8, [1.5, 1.2]);
    seg(a2[0], a2[1], 385, 338, "#f08a3c", 0.8, [1.5, 1.2]);
    arrow(P(9, 22141, 1.4), P(9, 22141, 1.12), "#2bb34a", 0.8, [1.5, 1], 2.6);
    arrow(P(10, 22122, 0.28), P(10, 22118.4, 0.52), "#f2649c", 0.8, undefined, 3);
  }

  /* (j) */
  {
    const g11 = GRIDS[11];
    const g13 = GRIDS[13];
    text(g11.left + 3, g11.top + 4, "Cu K-edge", { size: 5.5 });
    text(g13.left + 3, g13.top + 5, "Ru K-edge", { size: 5.5 });
    const cf = P(11, cuRefE[0], cuRefState[0]);
    text(cf[0] - 6, cf[1] - 4, "Cu foil", { size: 5.5, align: "center" });
    const co = P(11, cuRefE[1], cuRefState[1]);
    text(co[0] + 1, co[1] + 4.5, "CuO", { size: 5.5 });
    const rf = P(13, ruRefE[0], ruRefState[0]);
    text(rf[0] + 3, rf[1] - 7, "Ru foil", { size: 5.5, align: "center" });
    const ro = P(13, ruRefE[1], ruRefState[1]);
    text(ro[0] + 6, ro[1] + 3, "RuO₂", { size: 5.5 });
    const b1 = P(11, 8980.78, 1.42);
    const b2 = P(11, 8982.1, 0.5);
    rectS(b1[0], b1[1], b2[0] - b1[0], b2[1] - b1[1], { fill: "none", stroke: "#f0a050", lineWidth: 1.3 }, 6);
    const c1 = P(13, 22126.85, 3.1);
    const c2 = P(13, 22128.6, 2.35);
    rectS(c1[0], c1[1], c2[0] - c1[0], c2[1] - c1[1], { fill: "none", stroke: "#f2c531", lineWidth: 1.2 }, 6);
    arrow(P(12, 8981.95, 1.02), P(12, 8981.62, 0.76), "#f5b820", 1.2, undefined, 3);
    arrow(P(14, 22127.35, 2.88), P(14, 22126.98, 2.7), "#f5a620", 1.2, undefined, 3);
    text(13, 421, "Bonding state", { size: 6.5, bold: true, align: "center", rot: Math.PI / 2 });

    // inset labels (top): staggered so they do not collide
    const topOff: [number, number, string][] = [
      [-1.8, -1.2, "right"], [1.8, 0.6, "left"], [1.8, 2.3, "left"], [2, -1.1, "left"], [2, 0.6, "left"], [2, 1.6, "left"],
    ];
    potLabels.forEach((t, k) => {
      const p = P(12, cuE[k], cuState[k]);
      text(p[0] + topOff[k][0], p[1] + topOff[k][1], t, { size: 3, align: topOff[k][2], color: "#333", z: 32 });
    });
    // inset labels (bottom)
    let prevY = -1e9;
    potLabels.forEach((t, k) => {
      const p = P(14, ruE[k], ruState[k]);
      const y = Math.max(p[1], prevY + 3.6);
      prevY = y;
      text(p[0] + 1.8, y, t, { size: 3, color: "#333", z: 32 });
    });
  }

  /* (k), (l) labels */
  potLabels.forEach((t, k) => {
    const pk = P(15, 5.12, [kOCP, k01, k02, k03, k04, k05][k][20] + 16);
    text(pk[0], pk[1], t, { size: 5.5, align: "center" });
    const pl = P(16, 5.05, [lOCP, l01, l02, l03, l04, l05][k][20] + 23);
    text(pl[0], pl[1], t, { size: 5.5, align: "center" });
  });
  {
    const a = P(15, 1.3, 229);
    text(a[0], a[1], "Cu-N", { size: 5, align: "center" });
    const b = P(15, 2.4, 256);
    text(b[0], b[1], "Cu-Ru", { size: 5, align: "center" });
    const c = P(16, 0.8, 217);
    text(c[0], c[1], "Ru-N", { size: 5, align: "center" });
    const d = P(16, 2.45, 253);
    text(d[0], d[1], "Ru-Cu", { size: 5, align: "center" });
  }
  return els;
}

export default function App() {
  const ref = useRef<HTMLDivElement>(null);
  useEffect(() => {
    if (!ref.current) return;
    const chart = echarts.init(ref.current, null, { renderer: "svg" });
    chart.setOption(buildOption());
    chart.setOption({ graphic: { elements: buildGraphics(chart) } });
    return () => chart.dispose();
  }, []);
  return <div ref={ref} style={{ position: "fixed", left: 0, top: 0, width: 447, height: 490, background: "#fff" }} />;
}
